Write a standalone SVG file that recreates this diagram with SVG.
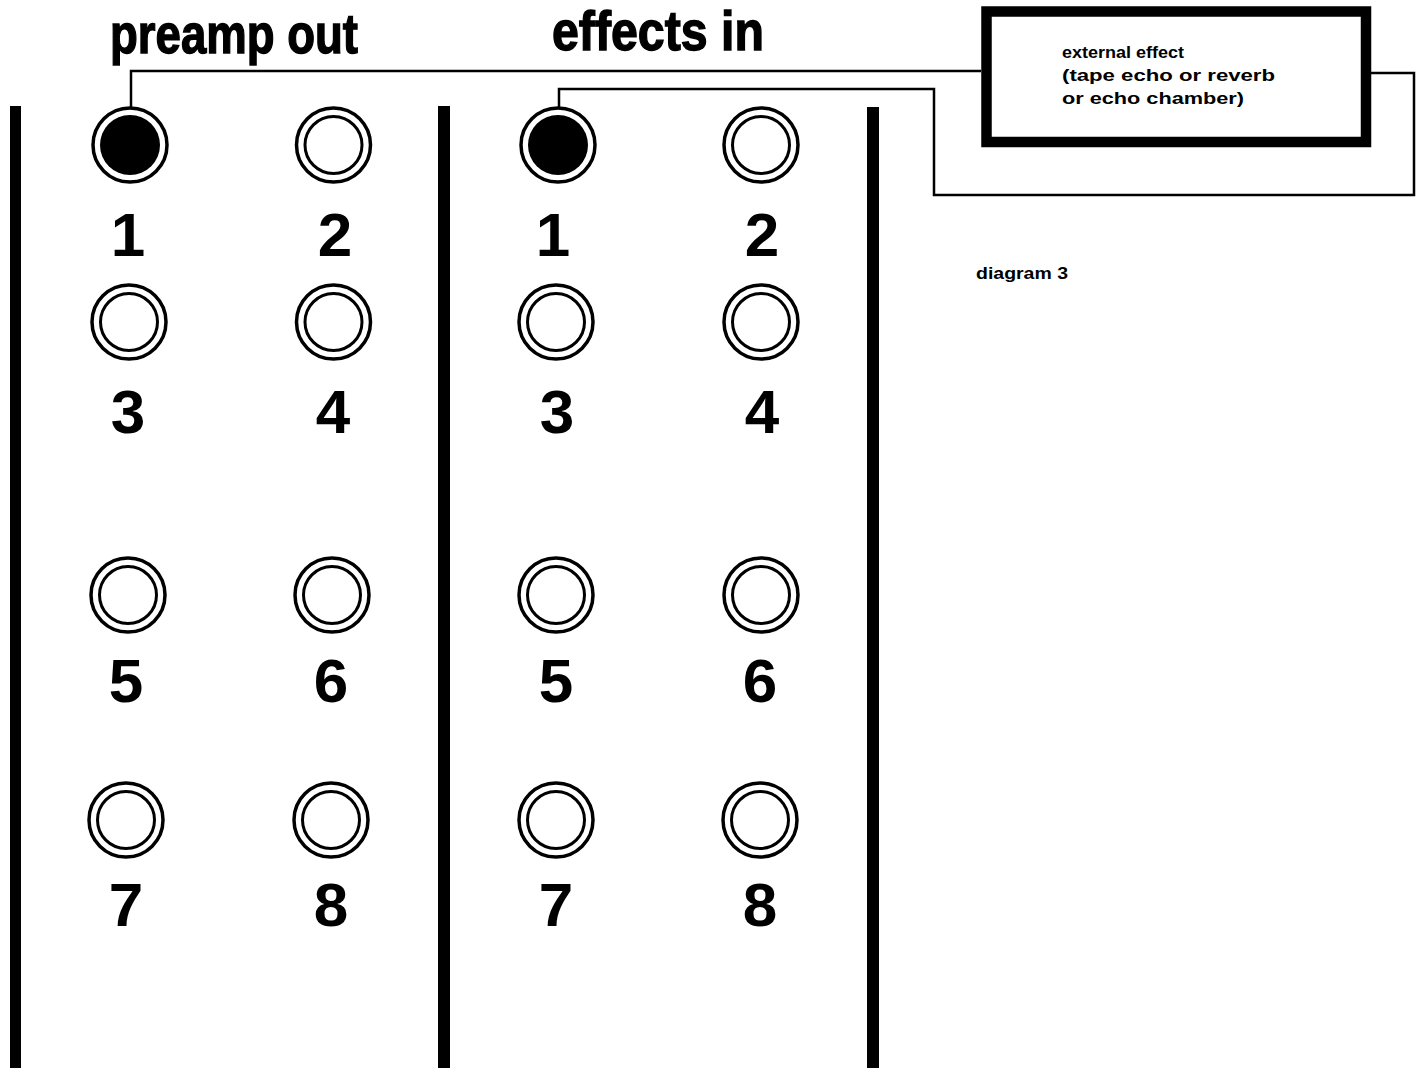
<svg xmlns="http://www.w3.org/2000/svg" width="1424" height="1068" viewBox="0 0 1424 1068">
  <style>
    .bar { fill: #000; }
    .ring { fill: #fff; stroke: #000; stroke-width: 3.5; }
    .inner { fill: #fff; stroke: #000; stroke-width: 3; }
    .plug { fill: #000; stroke: none; }
    .num { font-family: "Liberation Sans", Arial, sans-serif; font-weight: bold; font-size: 62px; fill: #000; text-anchor: middle; }
    .title { font-family: "Liberation Sans", Arial, sans-serif; font-weight: bold; font-size: 56px; fill: #000; stroke: #000; stroke-width: 1.4; }
    .label { font-family: "Liberation Sans", Arial, sans-serif; font-weight: bold; font-size: 16.5px; fill: #000; }
    .wire { fill: none; stroke: #000; stroke-width: 2.5; stroke-linejoin: miter; }
  </style>
  <defs>
    <g id="jack">
      <circle class="ring" r="37"/>
      <circle class="inner" r="28.5"/>
    </g>
    <g id="jack-used">
      <circle class="ring" r="37"/>
      <circle class="plug" r="30"/>
    </g>
  </defs>

  <rect width="1424" height="1068" fill="#fff"/>

  <!-- panel dividers -->
  <g id="panel-bars">
    <rect class="bar" x="10" y="106" width="11" height="962"/>
    <rect class="bar" x="438" y="106" width="12" height="962"/>
    <rect class="bar" x="867" y="107" width="12" height="961"/>
  </g>

  <!-- section headings -->
  <text class="title" x="110" y="53" textLength="248" lengthAdjust="spacingAndGlyphs">preamp out</text>
  <text class="title" x="552" y="50" textLength="212" lengthAdjust="spacingAndGlyphs">effects in</text>

  <!-- patch cables -->
  <g id="connectors">
    <polyline class="wire" points="131,108 131,71 981,71"/>
    <polyline class="wire" points="559,108 559,89 934,89 934,195 1414,195 1414,73 1371,73"/>
  </g>

  <!-- external effect unit -->
  <g id="external-effect">
    <rect x="986.5" y="11.5" width="379.5" height="130.5" fill="#fff" stroke="#000" stroke-width="10.5"/>
    <text class="label" x="1062" y="58" textLength="122" lengthAdjust="spacingAndGlyphs">external effect</text>
    <text class="label" x="1062" y="81" textLength="213" lengthAdjust="spacingAndGlyphs">(tape echo or reverb</text>
    <text class="label" x="1062" y="104" textLength="182" lengthAdjust="spacingAndGlyphs">or echo chamber)</text>
  </g>

  <text class="label" x="976" y="279" textLength="92" lengthAdjust="spacingAndGlyphs">diagram 3</text>

  <!-- preamp out jacks -->
  <g id="preamp-1"><use href="#jack-used" x="130" y="145"/><text class="num" x="128" y="256">1</text></g>
  <g id="preamp-2"><use href="#jack" x="333.5" y="145"/><text class="num" x="335" y="256">2</text></g>
  <g id="preamp-3"><use href="#jack" x="129" y="322"/><text class="num" x="128" y="433">3</text></g>
  <g id="preamp-4"><use href="#jack" x="333.5" y="322"/><text class="num" x="333" y="433">4</text></g>
  <g id="preamp-5"><use href="#jack" x="128" y="595"/><text class="num" x="126" y="702">5</text></g>
  <g id="preamp-6"><use href="#jack" x="332" y="595"/><text class="num" x="331" y="702">6</text></g>
  <g id="preamp-7"><use href="#jack" x="126" y="820"/><text class="num" x="126" y="926">7</text></g>
  <g id="preamp-8"><use href="#jack" x="331" y="820"/><text class="num" x="331" y="926">8</text></g>

  <!-- effects in jacks -->
  <g id="effects-1"><use href="#jack-used" x="558" y="145"/><text class="num" x="553" y="256">1</text></g>
  <g id="effects-2"><use href="#jack" x="761" y="145"/><text class="num" x="762" y="256">2</text></g>
  <g id="effects-3"><use href="#jack" x="556" y="322"/><text class="num" x="557" y="433">3</text></g>
  <g id="effects-4"><use href="#jack" x="761" y="322"/><text class="num" x="762" y="433">4</text></g>
  <g id="effects-5"><use href="#jack" x="556" y="595"/><text class="num" x="556" y="702">5</text></g>
  <g id="effects-6"><use href="#jack" x="761" y="595"/><text class="num" x="760" y="702">6</text></g>
  <g id="effects-7"><use href="#jack" x="556" y="820"/><text class="num" x="556" y="926">7</text></g>
  <g id="effects-8"><use href="#jack" x="760" y="820"/><text class="num" x="760" y="926">8</text></g>
</svg>
